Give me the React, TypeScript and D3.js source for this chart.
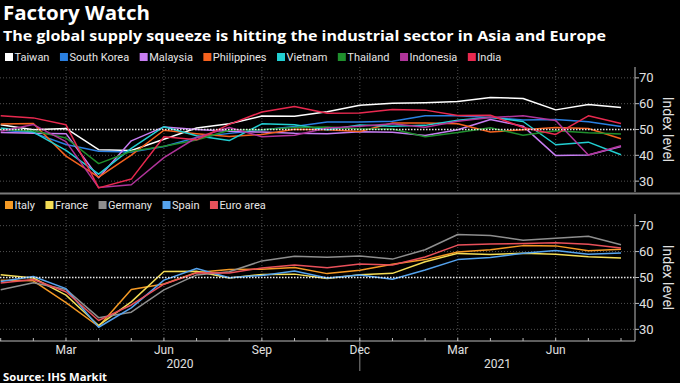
import React from "react";
import * as d3 from "d3";

const months = ["2020-01","2020-02","2020-03","2020-04","2020-05","2020-06","2020-07","2020-08","2020-09","2020-10","2020-11","2020-12","2021-01","2021-02","2021-03","2021-04","2021-05","2021-06","2021-07","2021-08"];
const monthTickLabels = [[2,"Mar"],[5,"Jun"],[8,"Sep"],[11,"Dec"],[14,"Mar"],[17,"Jun"]] as [number,string][];
const yearLabels = ["2020","2021"];
const yTicks = [30,40,50,60,70];

const asiaNames = ["Taiwan","South Korea","Malaysia","Philippines","Vietnam","Thailand","Indonesia","India"];
const asiaColors = ["#ffffff","#2a7fe0","#c77df2","#f5621e","#22cfd2","#1f8f2d","#b0349a","#e8294f"];
const taiwan = [51.8,49.9,50.4,42.2,41.9,46.2,50.6,52.2,55.2,55.1,56.9,59.4,60.2,60.4,60.8,62.4,62.0,57.6,59.7,58.5];
const southKorea = [49.8,48.7,44.2,41.6,41.3,43.4,46.9,48.5,49.8,51.2,52.9,52.9,53.2,55.3,55.3,54.6,53.7,53.9,53.0,51.2];
const malaysia = [48.8,48.5,48.4,31.3,45.6,51.0,50.0,49.3,49.0,48.5,48.4,49.1,48.9,47.7,49.9,53.9,51.3,39.9,40.1,43.4];
const philippines = [52.1,52.3,39.7,31.6,40.1,49.7,48.4,47.3,48.1,50.1,49.9,49.2,52.5,52.5,52.2,49.0,49.9,50.8,50.4,46.4];
const vietnam = [50.6,49.0,41.9,32.7,42.7,51.1,47.6,45.7,52.2,51.8,49.9,51.7,51.3,51.6,53.6,54.7,53.1,44.1,45.1,40.2];
const thailand = [49.9,49.5,46.7,36.8,41.6,43.5,45.9,49.7,49.9,50.8,51.0,50.2,50.2,47.2,48.8,50.7,47.8,49.5,48.7,48.3];
const indonesia = [49.3,51.9,45.3,27.5,28.6,39.1,46.9,50.8,47.2,47.8,50.6,51.3,52.2,50.9,53.2,54.6,55.3,53.5,40.1,43.7];
const india = [55.3,54.5,51.8,27.4,30.8,47.2,46.0,52.0,56.8,58.9,56.3,56.4,57.7,57.5,55.4,55.5,50.8,48.1,55.3,52.3];
const asiaValues = [taiwan,southKorea,malaysia,philippines,vietnam,thailand,indonesia,india];

const euroNames = ["Italy","France","Germany","Spain","Euro area"];
const euroColors = ["#f59a25","#f3dc55","#8e8e8e","#55a3ee","#e8505a"];
const italy = [48.9,48.7,40.3,31.1,45.4,47.5,51.9,53.1,53.2,53.9,51.5,52.8,55.1,56.9,59.8,60.7,62.3,62.2,60.3,60.9];
const france = [51.1,49.8,43.2,31.5,40.6,52.3,52.4,49.8,51.2,51.3,49.6,51.1,51.6,56.1,59.3,58.9,59.4,59.0,58.0,57.5];
const germany = [45.3,48.0,45.4,34.5,36.6,45.2,51.0,52.2,56.4,58.2,57.8,58.3,57.1,60.7,66.6,66.2,64.4,65.1,65.9,62.6];
const spain = [48.5,50.4,45.7,30.8,38.3,49.0,53.5,49.9,50.8,52.5,49.8,51.0,49.3,52.9,56.9,57.7,59.4,60.4,59.0,59.5];
const euroArea = [47.9,49.2,44.5,33.4,39.4,47.4,51.8,51.7,53.7,54.8,53.8,55.2,54.8,57.9,62.5,62.9,63.1,63.4,62.8,61.4];
const euroValues = [italy,france,germany,spain,euroArea];

const W = 680, H = 383;
const AXIS_X = 635;
const FONT = "Roboto, 'Liberation Sans', sans-serif";
const TITLE_FONT = "'Open Sans', 'Liberation Sans', sans-serif";

const x = d3.scalePoint<string>().domain(months).range([0.7, 621]);

let ctx: CanvasRenderingContext2D | null = null;
function measure(t: string, font: string) {
  if (!ctx) ctx = document.createElement("canvas").getContext("2d");
  if (!ctx) return t.length * 6;
  ctx.font = font;
  return ctx.measureText(t).width;
}

function Legend({ names, colors, y }: { names: string[]; colors: string[]; y: number }) {
  let cx = 5;
  const items = names.map((n, i) => {
    const pos = cx;
    cx += 9 + measure(n, `11px ${FONT}`) + 11;
    return (
      <g key={n} transform={`translate(${pos},${y})`}>
        <rect x={0} y={-4} width={8} height={8} fill={colors[i]} />
        <text x={9.5} y={4} fill="#e6e6e6" fontSize={11} fontFamily={FONT}>{n}</text>
      </g>
    );
  });
  return <g>{items}</g>;
}

function Panel({ values, colors, top, bottom, domain }: { values: number[][]; colors: string[]; top: number; bottom: number; domain: [number, number] }) {
  const y = d3.scaleLinear().domain(domain).range([bottom, top]);
  const line = d3.line<number>().x((_, i) => x(months[i])!).y((v) => y(v));
  return (
    <g>
      {monthTickLabels.map(([i]) => (
        <line key={"vg" + i} x1={x(months[i])} x2={x(months[i])} y1={top} y2={bottom} stroke="#666" strokeWidth={0.8} strokeDasharray="1,2" />
      ))}
      {yTicks.filter((t) => t !== 50).map((t) => (
        <line key={"hg" + t} x1={0} x2={AXIS_X} y1={y(t)} y2={y(t)} stroke="#666" strokeWidth={0.8} strokeDasharray="1,2" />
      ))}
      {values.map((vals, i) => (
        <path key={i} d={line(vals) || ""} fill="none" stroke={colors[i]} strokeWidth={1.5} strokeLinejoin="round" />
      ))}
      <line x1={0} x2={AXIS_X} y1={y(50)} y2={y(50)} stroke="#e8e8e8" strokeWidth={1.5} strokeDasharray="1.5,1.5" />
      <line x1={AXIS_X} x2={AXIS_X} y1={top} y2={bottom} stroke="#bbb" strokeWidth={1} />
      {yTicks.map((t) => (
        <g key={"yt" + t}>
          <line x1={AXIS_X} x2={AXIS_X + 4} y1={y(t)} y2={y(t)} stroke="#bbb" strokeWidth={1} />
          <text x={AXIS_X + 4} y={y(t) + 4.5} fill="#e0e0e0" fontSize={13} fontFamily={FONT}>{t}</text>
        </g>
      ))}
      <text transform={`translate(${663},${(top + bottom) / 2}) rotate(90)`} textAnchor="middle" fill="#e0e0e0" fontSize={14} fontFamily={FONT}>Index level</text>
    </g>
  );
}

export default function App() {
  const sepX = x(months[11])!;
  return (
    <div style={{ position: "absolute", left: 0, top: 0 }}>
      <svg width={W} height={H} style={{ display: "block", background: "#000" }}>
        <rect width={W} height={H} fill="#000" />
        <text x={3} y={20} fill="#fff" fontSize={20} fontWeight="bold" fontFamily={TITLE_FONT} textLength={147} lengthAdjust="spacingAndGlyphs">Factory Watch</text>
        <text x={3} y={41} fill="#fff" fontSize={14.5} fontWeight="bold" fontFamily={TITLE_FONT} textLength={603} lengthAdjust="spacingAndGlyphs">The global supply squeeze is hitting the industrial sector in Asia and Europe</text>
        <Legend names={asiaNames} colors={asiaColors} y={57} />
        <Panel values={asiaValues} colors={asiaColors} top={67} bottom={192} domain={[25.8, 74.2]} />
        <line x1={0} x2={W} y1={193.5} y2={193.5} stroke="#7a7a7a" strokeWidth={2} />
        <Legend names={euroNames} colors={euroColors} y={205} />
        <Panel values={euroValues} colors={euroColors} top={214} bottom={341} domain={[25.5, 74.5]} />
        <line x1={0} x2={AXIS_X} y1={341} y2={341} stroke="#bbb" strokeWidth={1} />
        {months.map((m) => (
          <line key={"xt" + m} x1={x(m)} x2={x(m)} y1={338} y2={341} stroke="#bbb" strokeWidth={1} />
        ))}
        <line x1={sepX} x2={sepX} y1={341} y2={371} stroke="#888" strokeWidth={1} />
        {monthTickLabels.map(([i, l]) => (
          <text key={"xl" + i} x={x(months[i])} y={354} textAnchor="middle" fill="#e0e0e0" fontSize={12} fontFamily={FONT}>{l}</text>
        ))}
        <text x={sepX / 2} y={368} textAnchor="middle" fill="#e0e0e0" fontSize={12} fontFamily={FONT}>{yearLabels[0]}</text>
        <text x={(sepX + AXIS_X) / 2} y={368} textAnchor="middle" fill="#e0e0e0" fontSize={12} fontFamily={FONT}>{yearLabels[1]}</text>
        <text x={3} y={381} fill="#fff" fontSize={11} fontWeight="bold" fontFamily={TITLE_FONT} textLength={104} lengthAdjust="spacingAndGlyphs">Source: IHS Markit</text>
      </svg>
    </div>
  );
}
